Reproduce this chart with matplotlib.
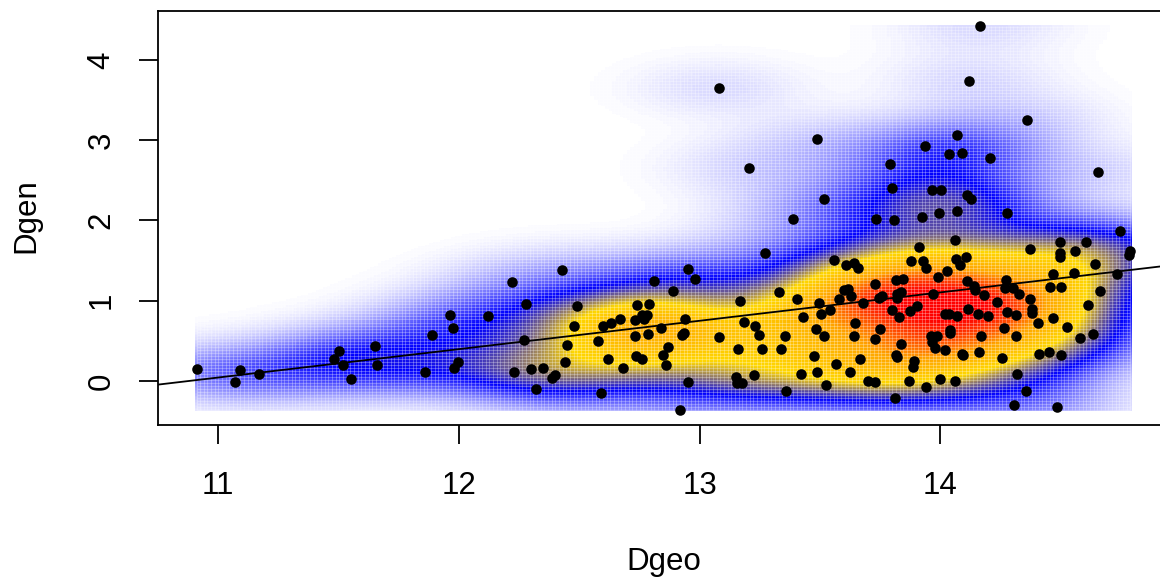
import numpy as np
import matplotlib
matplotlib.use('Agg')
import matplotlib.pyplot as plt
from matplotlib.colors import LinearSegmentedColormap

plt.rcParams['font.family'] = ['Liberation Sans', 'DejaVu Sans']

# values
dgeo = [10.91, 11.09, 11.07, 11.17, 11.50, 11.48, 11.52, 11.55, 11.65, 11.66, 11.89, 11.86, 11.965, 11.975, 11.995, 11.98, 12.12,
        12.22, 12.43, 12.28, 12.49, 12.27, 12.48, 12.45, 12.44, 12.23, 12.30, 12.35, 12.40, 12.385, 12.32, 12.59, 12.58, 12.60,
        12.63, 12.67, 12.62, 12.68, 12.73, 12.73, 12.74, 12.79, 12.76, 12.78, 12.77, 12.785, 12.735, 12.76, 12.84, 12.81, 12.89,
        12.95, 12.98, 12.94, 12.935, 12.925, 12.87, 12.85, 12.86, 12.95, 12.92, 13.08, 13.17, 13.27, 13.33, 13.185, 13.23, 13.245,
        13.16, 13.26, 13.34, 13.355, 13.225, 13.15, 13.175, 13.155, 13.36,
        14.06, 13.91, 13.56, 13.61, 13.64, 13.66, 13.88, 13.93, 13.94, 14.065, 14.08, 14.105, 14.03, 13.99, 14.11, 13.815, 13.845,
        13.73, 13.60, 13.615, 13.63, 13.58, 13.405, 13.495, 13.54, 13.505, 13.43, 13.68, 13.745, 13.76, 13.82, 13.835, 13.82, 13.97,
        13.80, 13.83, 13.875, 13.905, 14.02, 14.035, 14.07, 14.115, 13.645, 13.485, 13.515, 13.64, 13.75, 13.73, 13.835, 13.96,
        13.985, 13.965, 13.98, 14.04, 14.04, 14.02, 14.09, 14.095, 13.475, 13.665, 13.815, 13.82, 13.893, 13.885, 13.565, 13.49,
        13.42, 13.625, 13.70, 13.73, 13.525, 13.87, 14.00, 14.06, 13.94, 13.81,
        14.745, 14.497, 14.604, 14.374, 14.56, 14.496, 14.498, 14.79, 14.785, 14.644, 14.468, 14.554, 14.735, 14.275, 14.14, 14.144,
        14.269, 14.303, 14.327, 14.18, 14.458, 14.5, 14.662, 14.374, 14.38, 14.38, 14.234, 14.158, 14.2, 14.278, 14.313, 14.615,
        14.47, 14.407, 14.528, 14.264, 14.169, 14.316, 14.579, 14.633, 14.159, 14.256, 14.41, 14.453, 14.501, 14.32, 14.356, 14.307, 14.486,
        14.166, 13.08, 14.119, 14.36, 13.487, 14.07, 13.937, 14.038, 14.092, 14.207, 13.205, 13.79, 14.656, 13.80, 13.964, 14.005,
        14.112, 14.126, 13.515, 14.07, 13.993, 13.925, 14.279, 13.39, 13.732, 13.806]
dgen = [0.146, 0.14, -0.01, 0.09, 0.37, 0.28, 0.20, 0.02, 0.44, 0.20, 0.57, 0.11, 0.82, 0.66, 0.24, 0.16, 0.81,
        1.23, 1.38, 0.955, 0.93, 0.515, 0.69, 0.445, 0.24, 0.11, 0.15, 0.16, 0.07, 0.04, -0.10, -0.145, 0.495, 0.68,
        0.72, 0.77, 0.28, 0.16, 0.565, 0.755, 0.95, 0.96, 0.82, 0.82, 0.77, 0.59, 0.31, 0.27, 0.66, 1.24, 1.125,
        1.395, 1.27, 0.77, 0.595, 0.57, 0.42, 0.33, 0.195, -0.01, -0.36, 0.55, 1.00, 1.60, 1.105, 0.73, 0.69, 0.57,
        0.40, 0.395, 0.40, 0.56, 0.08, 0.045, -0.02, -0.02, -0.13,
        1.757, 1.67, 1.51, 1.446, 1.47, 1.41, 1.49, 1.49, 1.41, 1.52, 1.44, 1.55, 1.37, 1.30, 1.25, 1.26, 1.27,
        1.21, 1.14, 1.15, 1.06, 1.02, 1.02, 0.97, 0.885, 0.84, 0.80, 0.97, 1.04, 1.06, 1.09, 1.105, 1.04, 1.085,
        0.885, 0.80, 0.877, 0.94, 0.83, 0.835, 0.81, 0.90, 0.727, 0.65, 0.565, 0.56, 0.644, 0.528, 0.46, 0.56,
        0.56, 0.48, 0.41, 0.636, 0.60, 0.387, 0.34, 0.33, 0.31, 0.275, 0.33, 0.295, 0.245, 0.18, 0.21, 0.11,
        0.09, 0.11, 0.00, -0.01, -0.05, 0.00, 0.03, 0.00, -0.08, -0.21,
        1.87, 1.737, 1.737, 1.64, 1.615, 1.59, 1.55, 1.62, 1.57, 1.458, 1.33, 1.35, 1.338, 1.263, 1.18, 1.13,
        1.155, 1.16, 1.084, 1.07, 1.167, 1.176, 1.118, 1.018, 0.90, 0.85, 0.98, 0.84, 0.81, 0.864, 0.823, 0.947,
        0.785, 0.719, 0.677, 0.665, 0.557, 0.565, 0.532, 0.586, 0.362, 0.287, 0.341, 0.358, 0.329, 0.088, -0.124, -0.299, -0.328,
        4.428, 3.65, 3.743, 3.249, 3.01, 3.07, 2.924, 2.833, 2.837, 2.775, 2.655, 2.704, 2.605, 2.41, 2.38, 2.385,
        2.318, 2.272, 2.272, 2.119, 2.094, 2.04, 2.098, 2.019, 2.015, 2.011]

fit_intercept = -3.845
fit_slope = 0.3535

x_ticks = [11, 12, 13, 14]
y_ticks = [0, 1, 2, 3, 4]


def smooth_density(x, y, bw, nbin=256, tau=3.4):
    # same idea as bkde2D: gaussian cut off at tau bandwidths
    gx = np.linspace(x.min(), x.max(), nbin)
    gy = np.linspace(y.min(), y.max(), nbin)
    dx = (gx[None, :] - x[:, None]) / bw[0]
    dy = (gy[None, :] - y[:, None]) / bw[1]
    kx = np.exp(-0.5 * dx**2) * (np.abs(dx) <= tau)
    ky = np.exp(-0.5 * dy**2) * (np.abs(dy) <= tau)
    return gx, gy, ky.T @ kx


x = np.array(dgeo)
y = np.array(dgen)

gx, gy, dens = smooth_density(x, y, (0.25, 0.25))
dens = dens / dens.max()

ramp = LinearSegmentedColormap.from_list('ramp', ['white', 'blue', 'gold', 'orange', 'red'], N=256)

fig = plt.figure(figsize=(11.6, 5.77), dpi=100)
ax = fig.add_axes([158 / 1160, 1 - 425 / 577, 1 - 158 / 1160, 414 / 577])

ax.pcolormesh(gx, gy, dens, cmap=ramp, vmin=0, vmax=0.96, shading='nearest', linewidth=0)

# the reference image has pale seams between its cells
ax.vlines(gx, y.min(), y.max(), color='white', alpha=0.33, lw=0.6, zorder=2)
ax.hlines(gy[::2], x.min(), x.max(), color='white', alpha=0.33, lw=0.6, zorder=2)

ax.axline((0, fit_intercept), slope=fit_slope, color='black', lw=1.3, zorder=3)
ax.plot(x, y, 'o', color='black', ms=7.6, mew=0, zorder=4)

ax.set_xlim(10.75, 14.913)
ax.set_ylim(-0.548, 4.61)
ax.spines['right'].set_visible(False)
for s in ['left', 'bottom', 'top']:
    ax.spines[s].set_linewidth(1.3)

ax.set_xticks(x_ticks)
ax.set_yticks(y_ticks)
ax.tick_params(length=13.7, width=1.3, labelsize=22.5)
ax.tick_params(axis='x', pad=19.5)
ax.tick_params(axis='y', pad=16)
plt.setp(ax.get_yticklabels(), rotation=90, va='center')

ax.set_xlabel('Dgeo', fontsize=22.5)
ax.set_ylabel('Dgen', fontsize=22.5)
ax.xaxis.set_label_coords(506 / 1002, -122 / 414, transform=ax.transAxes)
ax.yaxis.set_label_coords(-117 / 1002, 0.505, transform=ax.transAxes)

plt.savefig('out.png', dpi=100)
